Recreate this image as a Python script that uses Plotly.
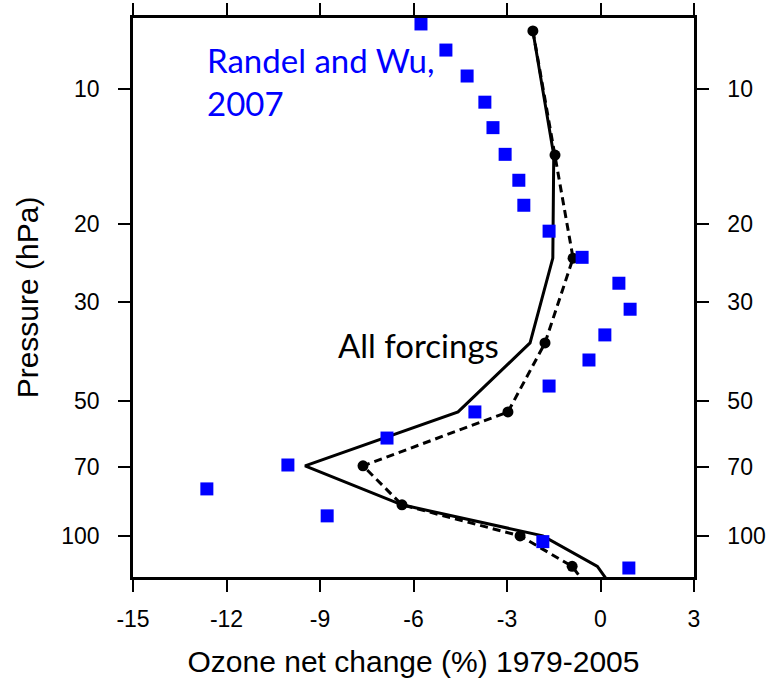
import plotly.graph_objects as go

# Randel and Wu (2007) observations
obs_p = [7.15, 8.18, 9.35, 10.7, 12.2, 14.0, 16.0, 18.2, 20.8, 23.8, 27.2, 31.1,
         35.5, 40.4, 46.2, 52.8, 60.4, 69.4, 78.5, 90.2, 103, 118]
obs_x = [-5.76, -4.96, -4.28, -3.71, -3.45, -3.06, -2.62, -2.46, -1.65, -0.59, 0.59, 0.95,
         0.14, -0.37, -1.65, -4.03, -6.85, -10.03, -12.63, -8.77, -1.85, 0.91]

# Model levels
lev_p = [7.41, 14.05, 23.9, 37.0, 52.8, 69.7, 85.2, 100, 117, 135]
all_forcings = [-2.17, -1.50, -1.53, -2.26, -4.57, -9.48, -6.37, -1.85, -0.10, 0.53]
dashed_run = [-2.17, -1.46, -0.88, -1.78, -2.97, -7.62, -6.37, -2.58, -0.91, -0.24]

xticks = [-15, -12, -9, -6, -3, 0, 3]
xticklabels = ["-15", "-12", "-9", "-6", "-3", "0", "3"]
yticks = [10, 20, 30, 50, 70, 100]
yticklabels = ["10", "20", "30", "50", "70", "100"]
yrange_log = [0.841, 2.092]

fig = go.Figure()
fig.add_trace(go.Scatter(x=all_forcings, y=lev_p, mode="lines",
                         line=dict(color="black", width=3), showlegend=False))
fig.add_trace(go.Scatter(x=dashed_run[:-1], y=lev_p[:-1], mode="markers",
                         marker=dict(color="black", size=11), showlegend=False))
fig.add_trace(go.Scatter(x=dashed_run, y=lev_p, mode="lines",
                         line=dict(color="black", width=3, dash="8px,5px"), showlegend=False))
fig.add_trace(go.Scatter(x=obs_x, y=obs_p, mode="markers",
                         marker=dict(color="#0000FF", size=13, symbol="square"),
                         showlegend=False))
# invisible trace for right axis
fig.add_trace(go.Scatter(x=[0], y=[50], yaxis="y2", mode="markers",
                         marker=dict(opacity=0), showlegend=False, hoverinfo="skip"))

fig.add_annotation(x=-12.7, y=0.982, xref="x", yref="y", text="Randel and Wu,<br>2007",
                   showarrow=False, xanchor="left", yanchor="middle", align="left",
                   font=dict(family="Lato", size=33, color="#0000FF"))
fig.add_annotation(x=-8.5, y=1.573, xref="x", yref="y", text="All forcings",
                   showarrow=False, xanchor="left", yanchor="middle",
                   font=dict(family="Lato", size=33, color="black"))

axis_common = dict(showgrid=False, zeroline=False, showline=True, linecolor="black",
                   linewidth=2.5, ticks="outside", ticklen=12, tickwidth=2,
                   tickcolor="black", automargin=False,
                   tickfont=dict(family="Liberation Sans", size=23, color="black"))

fig.update_layout(
    width=769, height=680,
    margin=dict(l=133, r=75, t=18, b=103),
    paper_bgcolor="white", plot_bgcolor="white",
    xaxis=dict(range=[-15, 3], tickvals=xticks, ticktext=xticklabels, mirror="ticks",
               ticklabelstandoff=8,
               title=dict(text="Ozone net change (%) 1979-2005",
                          font=dict(family="Liberation Sans", size=30, color="black"),
                          standoff=20),
               **axis_common),
    yaxis=dict(type="log", range=[yrange_log[1], yrange_log[0]], tickvals=yticks,
               ticktext=yticklabels, mirror="ticks", ticklabelstandoff=14,
               title=dict(text="Pressure (hPa)",
                          font=dict(family="Liberation Sans", size=30, color="black"),
                          standoff=14),
               **axis_common),
    yaxis2=dict(type="log", range=[yrange_log[1], yrange_log[0]], tickvals=yticks,
                ticktext=yticklabels, overlaying="y", side="right", ticklabelstandoff=14,
                **axis_common),
)

fig.write_html("out.html")
